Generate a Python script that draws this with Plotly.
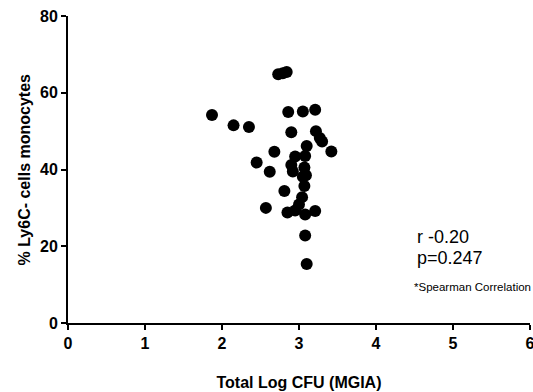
import plotly.graph_objects as go

# Total log CFU (MGIA) vs % Ly6C- monocytes, one point per subject
log_cfu = [1.87, 2.15, 2.35, 2.45, 2.57, 2.62, 2.68, 2.73, 2.79, 2.84,
           2.81, 2.86, 2.90, 2.85, 2.95, 2.90, 2.92, 2.95, 3.05, 3.21,
           3.22, 3.27, 3.30, 3.42, 3.10, 3.08, 3.07, 3.09, 3.05, 3.07,
           3.04, 3.00, 3.08, 3.21, 3.08, 3.10]
ly6c_neg = [54.2, 51.5, 51.1, 41.8, 30.0, 39.4, 44.6, 64.8, 65.1, 65.4,
            34.4, 55.0, 49.7, 28.8, 29.3, 41.2, 39.5, 43.4, 55.1, 55.6,
            50.0, 48.2, 47.3, 44.7, 46.1, 43.5, 40.5, 38.5, 38.1, 35.7,
            32.8, 30.9, 28.3, 29.2, 22.8, 15.4]

x_ticks = [0, 1, 2, 3, 4, 5, 6]
y_ticks = [0, 20, 40, 60, 80]

stats_lines = ["r -0.20", "p=0.247"]
stats_note = "*Spearman Correlation"

FONT = "Liberation Sans, Arial, sans-serif"

fig = go.Figure(
    go.Scatter(
        x=log_cfu, y=ly6c_neg, mode="markers",
        marker=dict(size=12, color="black", line=dict(width=0)),
        hoverinfo="x+y",
    )
)

axis_common = dict(
    showgrid=False, zeroline=False, showline=True, linecolor="black",
    linewidth=2, ticks="outside", ticklen=5, tickwidth=2, tickcolor="black",
    tickfont=dict(family=FONT, size=16, color="black"),
    ticklabeloverflow="allow", automargin=False,
)

fig.update_xaxes(
    range=[0, 6], tickvals=x_ticks,
    ticktext=[f"<b>{v}</b>" for v in x_ticks],
    title=dict(text="<b>Total Log CFU (MGIA)</b>", standoff=26,
               font=dict(family=FONT, size=16, color="black")),
    **axis_common,
)
fig.update_yaxes(
    range=[0, 80], tickvals=y_ticks,
    ticktext=[f"<b>{v}</b>" for v in y_ticks],
    **axis_common,
)

# y-axis title, placed as rotated text left of the tick labels
fig.add_annotation(
    x=0, y=0.5, xref="paper", yref="paper", xshift=-44,
    text="<b>% Ly6C- cells monocytes</b>", textangle=-90,
    showarrow=False, xanchor="center", yanchor="middle",
    font=dict(family=FONT, size=16, color="black"),
)

fig.add_annotation(
    x=4.51, y=22.3, xref="x", yref="y", text=stats_lines[0],
    showarrow=False, xanchor="left", yanchor="middle",
    font=dict(family=FONT, size=18, color="black"),
)
fig.add_annotation(
    x=4.51, y=16.9, xref="x", yref="y", text=stats_lines[1],
    showarrow=False, xanchor="left", yanchor="middle",
    font=dict(family=FONT, size=18, color="black"),
)
fig.add_annotation(
    x=4.47, y=9.3, xref="x", yref="y", text=stats_note,
    showarrow=False, xanchor="left", yanchor="middle",
    font=dict(family=FONT, size=11.5, color="black"),
)

fig.update_layout(
    width=533, height=392,
    margin=dict(l=68, r=3, t=16, b=69),
    plot_bgcolor="white", paper_bgcolor="white",
    showlegend=False,
)

fig.write_html("out.html")
